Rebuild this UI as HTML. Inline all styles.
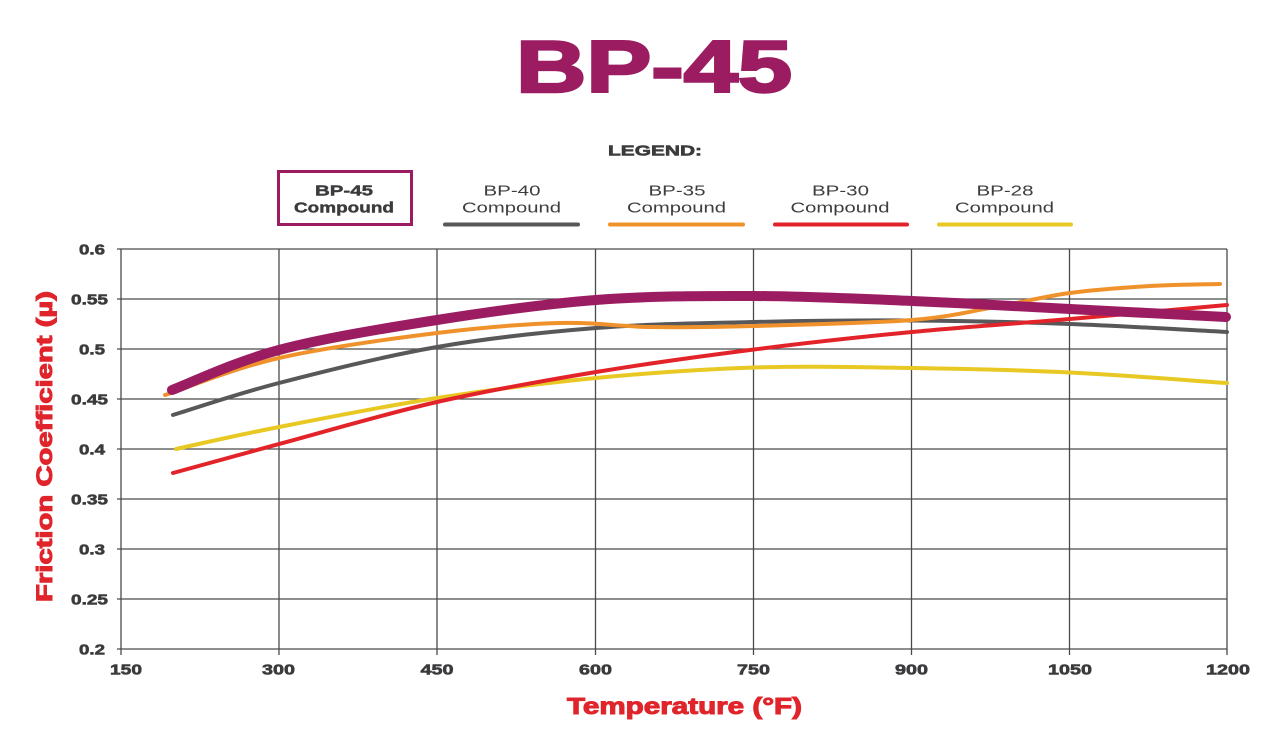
<!DOCTYPE html>
<html>
<head>
<meta charset="utf-8">
<style>
html,body{margin:0;padding:0;background:#ffffff;}
body{width:1271px;height:736px;overflow:hidden;}
svg{display:block;}
text{font-family:"Liberation Sans",sans-serif;}
</style>
</head>
<body>
<svg width="1271" height="736" viewBox="0 0 1271 736" xmlns="http://www.w3.org/2000/svg">
  <rect x="0" y="0" width="1271" height="736" fill="#ffffff"/>

  <!-- Title -->
  <text x="516" y="92" font-size="73" font-weight="bold" fill="#9c1c62" stroke="#9c1c62" stroke-width="2.5" stroke-linejoin="miter" textLength="276" lengthAdjust="spacingAndGlyphs">BP-45</text>

  <!-- Legend -->
  <text x="608" y="155.5" font-size="15" font-weight="bold" fill="#3b3b3d" stroke="#3b3b3d" stroke-width="0.6" textLength="94" lengthAdjust="spacingAndGlyphs">LEGEND:</text>

  <rect x="278.5" y="171.5" width="133" height="53" fill="none" stroke="#9c1c62" stroke-width="3"/>
  <text x="315" y="195.5" font-size="14.5" font-weight="bold" fill="#3b3b3d" stroke="#3b3b3d" stroke-width="0.4" textLength="58" lengthAdjust="spacingAndGlyphs">BP-45</text>
  <text x="294" y="212.5" font-size="14.5" font-weight="bold" fill="#3b3b3d" stroke="#3b3b3d" stroke-width="0.4" textLength="100" lengthAdjust="spacingAndGlyphs">Compound</text>

  <g font-size="14.5" fill="#3d3d3f">
    <text x="483.5" y="195.5" textLength="57" lengthAdjust="spacingAndGlyphs">BP-40</text>
    <text x="462" y="212.5" textLength="99" lengthAdjust="spacingAndGlyphs">Compound</text>
    <text x="648.5" y="195.5" textLength="57" lengthAdjust="spacingAndGlyphs">BP-35</text>
    <text x="627" y="212.5" textLength="99" lengthAdjust="spacingAndGlyphs">Compound</text>
    <text x="812" y="195.5" textLength="57" lengthAdjust="spacingAndGlyphs">BP-30</text>
    <text x="790.5" y="212.5" textLength="99" lengthAdjust="spacingAndGlyphs">Compound</text>
    <text x="976.5" y="195.5" textLength="57" lengthAdjust="spacingAndGlyphs">BP-28</text>
    <text x="955" y="212.5" textLength="99" lengthAdjust="spacingAndGlyphs">Compound</text>
  </g>
  <g stroke-width="4" stroke-linecap="round">
    <line x1="445" y1="224.5" x2="578" y2="224.5" stroke="#58585a"/>
    <line x1="610" y1="224.5" x2="743" y2="224.5" stroke="#f0922b"/>
    <line x1="775" y1="224.5" x2="907" y2="224.5" stroke="#e3232a"/>
    <line x1="939" y1="224.5" x2="1071" y2="224.5" stroke="#e8c823"/>
  </g>

  <!-- Grid -->
  <g stroke="#4a4a4c" stroke-width="1.3" fill="none">
    <line x1="117" y1="249" x2="1227" y2="249"/>
    <line x1="117" y1="299" x2="1227" y2="299"/>
    <line x1="117" y1="349" x2="1227" y2="349"/>
    <line x1="117" y1="399" x2="1227" y2="399"/>
    <line x1="117" y1="449" x2="1227" y2="449"/>
    <line x1="117" y1="499" x2="1227" y2="499"/>
    <line x1="117" y1="549" x2="1227" y2="549"/>
    <line x1="117" y1="599" x2="1227" y2="599"/>
    <line x1="117" y1="649" x2="1227" y2="649"/>
    <line x1="121" y1="249" x2="121" y2="655"/>
    <line x1="279" y1="249" x2="279" y2="655"/>
    <line x1="437" y1="249" x2="437" y2="655"/>
    <line x1="595.5" y1="249" x2="595.5" y2="655"/>
    <line x1="753.5" y1="249" x2="753.5" y2="655"/>
    <line x1="911.5" y1="249" x2="911.5" y2="655"/>
    <line x1="1069.5" y1="249" x2="1069.5" y2="655"/>
    <line x1="1227" y1="249" x2="1227" y2="655"/>
  </g>

  <!-- Y tick labels -->
  <g font-size="15" font-weight="bold" fill="#3b3b3d" stroke="#3b3b3d" stroke-width="0.6">
    <text x="79" y="254.5" textLength="26" lengthAdjust="spacingAndGlyphs">0.6</text>
    <text x="71" y="304.5" textLength="37" lengthAdjust="spacingAndGlyphs">0.55</text>
    <text x="79" y="354.5" textLength="26" lengthAdjust="spacingAndGlyphs">0.5</text>
    <text x="71" y="404.5" textLength="37" lengthAdjust="spacingAndGlyphs">0.45</text>
    <text x="79" y="454.5" textLength="26" lengthAdjust="spacingAndGlyphs">0.4</text>
    <text x="71" y="504.5" textLength="37" lengthAdjust="spacingAndGlyphs">0.35</text>
    <text x="79" y="554.5" textLength="26" lengthAdjust="spacingAndGlyphs">0.3</text>
    <text x="71" y="604.5" textLength="37" lengthAdjust="spacingAndGlyphs">0.25</text>
    <text x="79" y="654.5" textLength="26" lengthAdjust="spacingAndGlyphs">0.2</text>
  </g>

  <!-- X tick labels -->
  <g font-size="15" font-weight="bold" fill="#3b3b3d" stroke="#3b3b3d" stroke-width="0.6">
    <text x="110" y="674.5" textLength="32" lengthAdjust="spacingAndGlyphs">150</text>
    <text x="262" y="674.5" textLength="33" lengthAdjust="spacingAndGlyphs">300</text>
    <text x="420.5" y="674.5" textLength="33" lengthAdjust="spacingAndGlyphs">450</text>
    <text x="579" y="674.5" textLength="33" lengthAdjust="spacingAndGlyphs">600</text>
    <text x="737" y="674.5" textLength="33" lengthAdjust="spacingAndGlyphs">750</text>
    <text x="895" y="674.5" textLength="33" lengthAdjust="spacingAndGlyphs">900</text>
    <text x="1048" y="674.5" textLength="44" lengthAdjust="spacingAndGlyphs">1050</text>
    <text x="1206" y="674.5" textLength="44" lengthAdjust="spacingAndGlyphs">1200</text>
  </g>

  <!-- Axis titles -->
  <text x="567" y="714" font-size="23" font-weight="bold" fill="#e0242b" stroke="#e0242b" stroke-width="1" textLength="235" lengthAdjust="spacingAndGlyphs">Temperature (°F)</text>
  <text transform="translate(52,602) rotate(-90)" x="0" y="0" font-size="22" font-weight="bold" fill="#e0242b" stroke="#e0242b" stroke-width="1" textLength="311" lengthAdjust="spacingAndGlyphs">Friction Coefficient (µ)</text>

  <!-- Series -->
  <g fill="none" stroke-linecap="round" stroke-linejoin="round">
    <!-- BP-28 yellow -->
    <path stroke="#e8c823" stroke-width="4" d="M176,449 C193.2,445.3 235.5,435.5 279,427 C322.5,418.5 384.2,406.2 437,398 C489.8,389.8 543.2,383.1 596,378 C648.8,372.9 701.3,369.2 754,367.5 C806.7,365.8 859.3,367.2 912,368 C964.7,368.8 1017.5,370 1070,372.5 C1122.5,375 1200.8,381.3 1227,383"/>
    <!-- BP-40 gray -->
    <path stroke="#58585a" stroke-width="4" d="M173,415 C190.7,409.7 235,394.3 279,383 C323,371.7 384.2,356.2 437,347 C489.8,337.8 543.2,332.2 596,328 C648.8,323.8 701.3,323.3 754,322 C806.7,320.8 859.3,320.2 912,320.5 C964.7,320.8 1017.5,322.1 1070,324 C1122.5,325.9 1200.8,330.7 1227,332"/>
    <!-- BP-30 red -->
    <path stroke="#e3232a" stroke-width="4" d="M173,473 C190.7,468.2 235,455.8 279,444 C323,432.2 384.2,414 437,402 C489.8,390 543.2,380.8 596,372 C648.8,363.3 701.3,356.2 754,349.5 C806.7,342.8 859.3,337.1 912,332 C964.7,326.9 1017.5,323.5 1070,319 C1122.5,314.5 1200.8,307.3 1227,305"/>
    <!-- BP-35 orange -->
    <path stroke="#f0922b" stroke-width="4" d="M165,395 C184,388.8 233.7,368.3 279,358 C324.3,347.7 390.2,338.8 437,333 C483.8,327.2 524.5,324 560,323 C595.5,322 617.7,326.5 650,327 C682.3,327.5 710.3,327.2 754,326 C797.7,324.8 871,323.3 912,320 C953,316.7 973.7,310.5 1000,306 C1026.3,301.5 1045,296.3 1070,293 C1095,289.7 1125,287.5 1150,286 C1175,284.5 1208.3,284.3 1220,284"/>
    <!-- BP-45 purple -->
    <path stroke="#9c1c62" stroke-width="10" d="M172,390 C189.8,383.3 234.8,361.7 279,350 C323.2,338.3 384.2,328.3 437,320 C489.8,311.7 543.2,304 596,300 C648.8,296 701.3,295.8 754,296 C806.7,296.2 859.3,298.8 912,301 C964.7,303.2 1017.7,306.3 1070,309 C1122.3,311.7 1200,315.7 1226,317"/>
  </g>
</svg>
</body>
</html>
